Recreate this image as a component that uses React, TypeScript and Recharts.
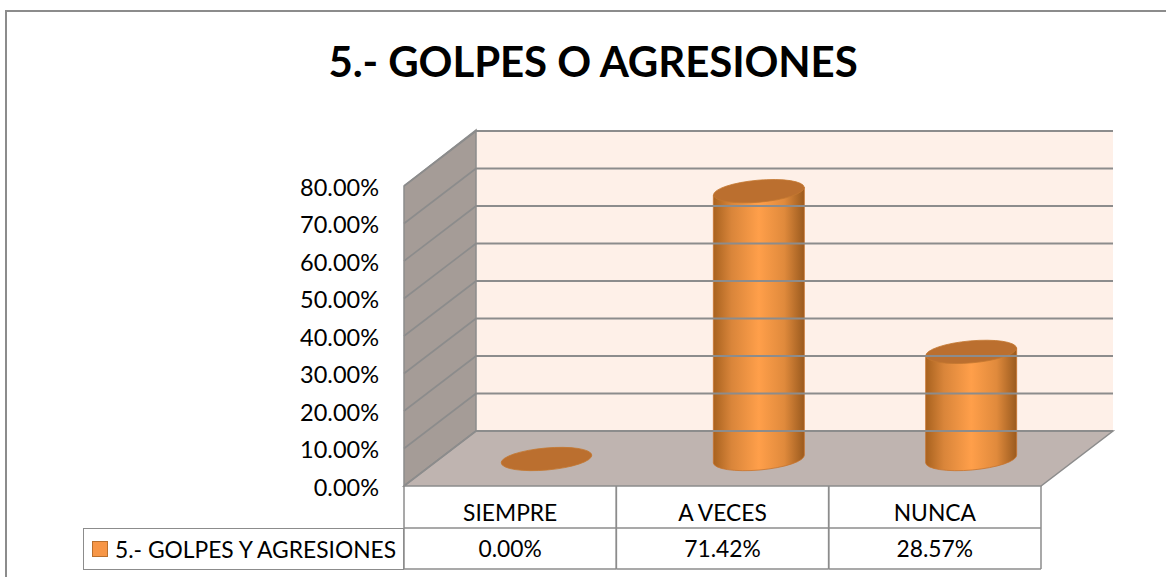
import React from 'react';
import { BarChart, Bar, XAxis, YAxis, ReferenceArea, ReferenceLine, Legend } from 'recharts';

const categories = ['SIEMPRE', 'A VECES', 'NUNCA'];
const values = [0, 71.42, 28.57];
const yTicks = [0, 10, 20, 30, 40, 50, 60, 70, 80];
const seriesName = '5.- GOLPES Y AGRESIONES';
const title = '5.- GOLPES O AGRESIONES';

const data = categories.map((name, i) => ({ name, value: values[i] }));

const FONT = 'Lato, "Open Sans", sans-serif';
const DEPTH_X = 72; // desplazamiento de la pared del fondo
const DEPTH_Y = 55;
const LINE = '#8c8c8c';
const fmt = (v: number) => `${v.toFixed(2)}%`;

// paredes y suelo del falso 3D
const Walls = ({ x, y, width, height }: any) => {
  const b = y + height;
  const r = x + width;
  return (
    <g>
      <polygon points={`${x + DEPTH_X},${y - DEPTH_Y - 1} ${r + DEPTH_X},${y - DEPTH_Y - 1} ${r + DEPTH_X},${b - DEPTH_Y} ${x + DEPTH_X},${b - DEPTH_Y}`} fill="#fef0e8" />
      <polygon points={`${x},${b} ${x},${y} ${x + DEPTH_X},${y - DEPTH_Y - 1} ${x + DEPTH_X},${b - DEPTH_Y}`} fill="#a59c97" stroke={LINE} strokeWidth={1.5} />
      <polygon points={`${x},${b} ${r},${b} ${r + DEPTH_X},${b - DEPTH_Y} ${x + DEPTH_X},${b - DEPTH_Y}`} fill="#bfb4b0" stroke={LINE} strokeWidth={1.5} />
    </g>
  );
};

const GridLine3D = ({ x1, x2, y1 }: any) => (
  <g stroke={LINE} fill="none">
    <line x1={x1} y1={y1} x2={x1 + DEPTH_X} y2={y1 - DEPTH_Y} strokeWidth={1.6} />
    <line x1={x1 + DEPTH_X} y1={y1 - DEPTH_Y} x2={x2 + DEPTH_X} y2={y1 - DEPTH_Y} strokeWidth={2} />
  </g>
);

const Cylinder = ({ x, y, width, height }: any) => {
  const rx = width / 2;
  const ry = 11;
  const tilt = 4;
  const cx = x + rx + 36;
  const top = y - 27;
  const bottom = y + height - 27;
  const body = `M${cx - rx},${top + tilt} L${cx - rx},${bottom + tilt} A${rx},${ry} -5 0 0 ${cx + rx},${bottom - tilt} L${cx + rx},${top - tilt} Z`;
  return (
    <g>
      {height > 0 && <path d={body} fill="url(#cylBody)" stroke="#c8742c" strokeWidth={0.8} />}
      <ellipse cx={cx} cy={top} rx={rx} ry={ry} transform={`rotate(-5 ${cx} ${top})`} fill="#bb6f2f" stroke="#c47830" strokeWidth={0.8} />
    </g>
  );
};

const TableTick = ({ x, index }: any) => {
  const band = 212.33;
  const left = x - band / 2;
  const top = 486;
  return (
    <g>
      <line x1={left} y1={top} x2={left} y2={569} stroke={LINE} strokeWidth={1.5} />
      <line x1={left + band} y1={top} x2={left + band} y2={569} stroke={LINE} strokeWidth={1.5} />
      <line x1={left} y1={528} x2={left + band} y2={528} stroke={LINE} strokeWidth={1.5} />
      <line x1={left} y1={569} x2={left + band} y2={569} stroke={LINE} strokeWidth={1.5} />
      <text x={x} y={521} textAnchor="middle" fontFamily={FONT} fontSize={22.8} fill="#000">
        {categories[index]}
      </text>
      <text x={x} y={557} textAnchor="middle" fontFamily={FONT} fontSize={22.8} fill="#000">
        {fmt(values[index])}
      </text>
    </g>
  );
};

const LegendBox = () => (
  <div
    style={{
      boxSizing: 'border-box',
      width: 321,
      height: 42,
      border: `1.5px solid ${LINE}`,
      display: 'flex',
      alignItems: 'center',
      paddingLeft: 8,
      fontFamily: FONT,
      fontSize: 22.8,
      color: '#000',
      whiteSpace: 'nowrap',
    }}
  >
    <span style={{ boxSizing: 'border-box', width: 16, height: 16, background: '#f79646', border: '1.5px solid #b96f2c', marginRight: 7, flex: 'none' }} />
    {seriesName}
  </div>
);

export default function App() {
  return (
    <div style={{ position: 'absolute', left: 0, top: 0, width: 1166, height: 577, overflow: 'hidden', background: '#fff' }}>
      <div style={{ position: 'absolute', left: 5, top: 10, width: 1200, height: 600, border: '2px solid #8c8c8c' }} />
      <div style={{ position: 'absolute', left: 0, top: 36, width: 1186, textAlign: 'center', fontFamily: FONT, fontWeight: 700, fontSize: 42, letterSpacing: -0.1, color: '#000' }}>
        {title}
      </div>
      <BarChart
        width={1166}
        height={577}
        data={data}
        margin={{ top: 186, right: 125, bottom: 0, left: 0 }}
        barSize={91}
        style={{ position: 'absolute', left: 0, top: 0 }}
      >
        <defs>
          <linearGradient id="cylBody" x1="0" y1="0" x2="1" y2="0">
            <stop offset="0" stopColor="#a8621f" />
            <stop offset="0.2" stopColor="#d9853a" />
            <stop offset="0.5" stopColor="#ff9f4a" />
            <stop offset="0.78" stopColor="#e08a3c" />
            <stop offset="1" stopColor="#9a5a1e" />
          </linearGradient>
        </defs>
        <ReferenceArea y1={0} y2={80} ifOverflow="visible" shape={<Walls />} />
        {yTicks.map((t) => (
          <ReferenceLine key={t} y={t} ifOverflow="visible" shape={<GridLine3D />} />
        ))}
        <XAxis dataKey="name" height={91} tickLine={false} axisLine={false} interval={0} tick={<TableTick />} />
        <YAxis
          width={404}
          domain={[0, 80]}
          ticks={yTicks}
          tickFormatter={fmt}
          tickLine={false}
          axisLine={false}
          tickMargin={19}
          dy={1.5}
          tick={{ fontFamily: FONT, fontSize: 23.5, fill: '#000' }}
        />
        <Legend
          verticalAlign="middle"
          content={<LegendBox />}
          wrapperStyle={{ left: 83, top: 527.5, width: 321, height: 42 }}
        />
        <Bar dataKey="value" name={seriesName} fill="#f79646" isAnimationActive={false} shape={<Cylinder />} />
      </BarChart>
    </div>
  );
}
